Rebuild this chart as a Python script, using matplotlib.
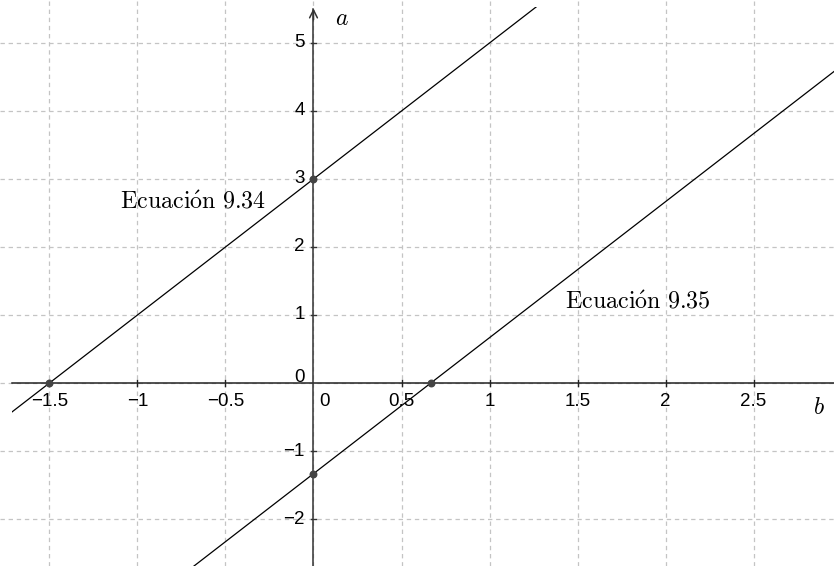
import numpy as np
import matplotlib.pyplot as plt
from matplotlib.patches import Rectangle

plt.rcParams['mathtext.fontset'] = 'cm'

# data
x_ticks = [-1.5, -1, -0.5, 0.5, 1, 1.5, 2, 2.5]
x_tick_labels = ['\u22121.5', '\u22121', '\u22120.5', '0.5', '1', '1.5', '2', '2.5']
y_ticks = [-2, -1, 1, 2, 3, 4, 5]
y_tick_labels = ['\u22122', '\u22121', '1', '2', '3', '4', '5']
slopes = [2, 2]
intercepts = [3, -4 / 3]
line_names = [r'$\mathrm{Ecuaci\acute{o}n\ 9.34}$', r'$\mathrm{Ecuaci\acute{o}n\ 9.35}$']
points_b = [-1.5, 0, 2 / 3, 0]
points_a = [0, 3, 0, -4 / 3]

xmin, xmax = -1.781, 2.957
ymin, ymax = -2.691, 5.632

fig = plt.figure(figsize=(8.34, 5.66), dpi=100)
ax = fig.add_axes([0, 0, 1, 1])
ax.set_xlim(xmin, xmax)
ax.set_ylim(ymin, ymax)

# grid
for gx in np.arange(-1.5, 3.0, 0.5):
    ax.axvline(gx, color='#c4c4c4', lw=0.9, ls=(0, (3.5, 3)), zorder=0)
for gy in range(-2, 6):
    ax.axhline(gy, color='#c4c4c4', lw=0.9, ls=(0, (3.5, 3)), zorder=0)

# axes
ax.plot([-1.713, xmax], [0, 0], color='#222222', lw=1.1, zorder=1)
ax.plot([0, 0], [ymin, 5.5], color='#333333', lw=1.1, zorder=1)
ax.annotate('', xy=(0, 5.55), xytext=(0, 5.3),
            arrowprops=dict(arrowstyle='->', color='#333333', lw=1.1,
                            mutation_scale=14))
for t in x_ticks:
    ax.plot([t, t], [-0.04, 0.04], color='#222222', lw=1)
for t in y_ticks:
    ax.plot([-0.012, 0.012], [t, t], color='#333333', lw=1)

ax.set_xticks([])
ax.set_yticks([])
for s in ax.spines.values():
    s.set_visible(False)

tick_font = dict(family='Liberation Sans', fontsize=13.5, color='black')
for t, lab in zip(x_ticks, x_tick_labels):
    ax.text(t, -0.15, lab, ha='center', va='top', **tick_font)
for t, lab in zip(y_ticks, y_tick_labels):
    ax.text(-0.05, t, lab, ha='right', va='center', **tick_font)
ax.text(-0.05, 0.02, '0', ha='right', va='baseline', **tick_font)
ax.text(0.034, -0.15, '0', ha='left', va='top', **tick_font)

ax.text(0.16, 5.36, r'$a$', fontsize=17, ha='center', va='center')
ax.text(2.872, -0.36, r'$b$', fontsize=17, ha='center', va='center')

# lines, clipped to the inner drawing area
clip = Rectangle((-1.713, -2.69), 4.67, 8.22, transform=ax.transData)
bb = np.array([xmin, xmax])
for m, c in zip(slopes, intercepts):
    ln, = ax.plot(bb, m * bb + c, color='black', lw=0.9, zorder=2)
    ln.set_clip_path(clip)

ax.text(-1.099, 2.56, line_names[0], fontsize=17.3, ha='left', va='baseline')
ax.text(1.429, 1.09, line_names[1], fontsize=17.3, ha='left', va='baseline')

ax.scatter(points_b, points_a, s=22, color='#444444', zorder=3)

fig.savefig('out.png', dpi=100)
